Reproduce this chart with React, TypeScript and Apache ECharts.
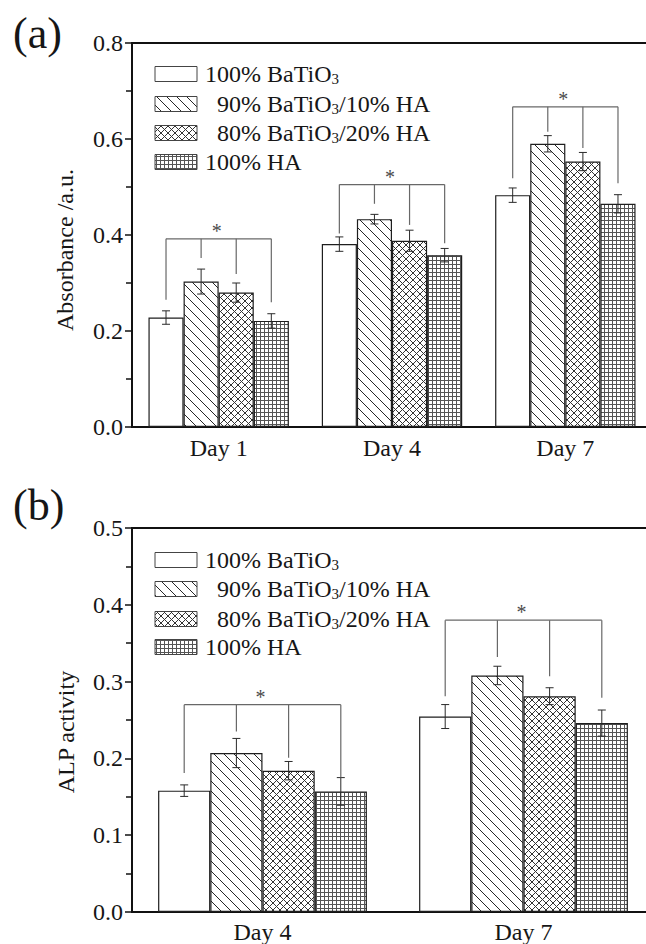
import React, { useEffect, useRef } from 'react';
import * as echarts from 'echarts';

// ---------- data ----------
const seriesNames = ['100% BaTiO3', '90% BaTiO3/10% HA', '80% BaTiO3/20% HA', '100% HA'];

// Panel (a): absorbance
const daysA = ['Day 1', 'Day 4', 'Day 7'];
const absBaTiO3 = [0.228, 0.381, 0.483];
const absBaTiO3Err = [0.014, 0.015, 0.015];
const abs90 = [0.303, 0.433, 0.59];
const abs90Err = [0.026, 0.01, 0.017];
const abs80 = [0.28, 0.388, 0.553];
const abs80Err = [0.02, 0.022, 0.019];
const absHA = [0.221, 0.358, 0.465];
const absHAErr = [0.015, 0.014, 0.019];
// significance brackets: bracket level, then the lower end of each leg
const absBracketLevel = [0.392, 0.505, 0.667];
const absBracketLegs = [
  [0.265, 0.352, 0.319, 0.26],
  [0.403, 0.465, 0.421, 0.383],
  [0.518, 0.615, 0.581, 0.508],
];
const absTicks = { min: 0, max: 0.8, interval: 0.2 };

// Panel (b): ALP activity
const daysB = ['Day 4', 'Day 7'];
const alpBaTiO3 = [0.158, 0.2545];
const alpBaTiO3Err = [0.0075, 0.0156];
const alp90 = [0.207, 0.308];
const alp90Err = [0.019, 0.012];
const alp80 = [0.184, 0.281];
const alp80Err = [0.012, 0.011];
const alpHA = [0.157, 0.246];
const alpHAErr = [0.018, 0.017];
const alpBracketLevel = [0.27, 0.38];
const alpBracketLegs = [
  [0.181, 0.235, 0.201, 0.175],
  [0.281, 0.332, 0.307, 0.279],
];
const alpTicks = { min: 0, max: 0.5, interval: 0.1 };

const FONT = "'Liberation Serif', 'Times New Roman', serif";
const TXT = '#161616';
const STAR = '#4a4a4a';
const FS = 24;

function makePattern(kind: string) {
  const s = kind === 'diag' ? 10 : kind === 'cross' ? 7 : 4;
  const c = document.createElement('canvas');
  c.width = s;
  c.height = s;
  const g = c.getContext('2d')!;
  g.fillStyle = '#ffffff';
  g.fillRect(0, 0, s, s);
  g.strokeStyle = kind === 'cross' ? '#333333' : '#262626';
  g.lineWidth = 1;
  if (kind === 'diag' || kind === 'cross') {
    g.beginPath();
    g.moveTo(0, 0); g.lineTo(s, s);
    g.moveTo(-1, s - 1); g.lineTo(1, s + 1);
    g.moveTo(s - 1, -1); g.lineTo(s + 1, 1);
    g.stroke();
  }
  if (kind === 'cross') {
    g.beginPath();
    g.moveTo(0, s); g.lineTo(s, 0);
    g.moveTo(-1, 1); g.lineTo(1, -1);
    g.moveTo(s - 1, s + 1); g.lineTo(s + 1, s - 1);
    g.stroke();
  }
  if (kind === 'grid') {
    g.strokeStyle = '#555555';
    g.beginPath();
    g.moveTo(0.5, 0); g.lineTo(0.5, s);
    g.moveTo(0, 0.5); g.lineTo(s, 0.5);
    g.stroke();
  }
  return { image: c.toDataURL(), repeat: 'repeat', imageWidth: s, imageHeight: s };
}

export default function App() {
  const ref = useRef<HTMLDivElement>(null);

  useEffect(() => {
    if (!ref.current) return;
    const chart = echarts.init(ref.current, undefined, { renderer: 'svg' });

    const fills = ['#ffffff', makePattern('diag'), makePattern('cross'), makePattern('grid')];

    const gapA = 0.19;
    const gapB = 0.2;

    const panelA = [
      { vals: absBaTiO3, errs: absBaTiO3Err },
      { vals: abs90, errs: abs90Err },
      { vals: abs80, errs: abs80Err },
      { vals: absHA, errs: absHAErr },
    ];
    const panelB = [
      { vals: alpBaTiO3, errs: alpBaTiO3Err },
      { vals: alp90, errs: alp90Err },
      { vals: alp80, errs: alp80Err },
      { vals: alpHA, errs: alpHAErr },
    ];

    const barSeries = (panel: any[], idx: number, gap: number) =>
      panel.map((p, i) => ({
        type: 'bar',
        name: seriesNames[i],
        xAxisIndex: idx,
        yAxisIndex: idx,
        data: p.vals,
        barGap: '0%',
        barCategoryGap: gap * 100 + '%',
        itemStyle: { color: fills[i], borderColor: '#1e1e1e', borderWidth: 1.2 },
        silent: true,
      }));

    const errSeries = (panel: any[], idx: number, gap: number) => {
      const data: number[][] = [];
      panel.forEach((p, s) => p.vals.forEach((v: number, c: number) => data.push([c, s, v, p.errs[c]])));
      return {
        type: 'custom',
        xAxisIndex: idx,
        yAxisIndex: idx,
        z: 5,
        silent: true,
        itemStyle: { color: '#2a2a2a' },
        data,
        encode: { x: 0, y: 2 },
        renderItem: (_params: any, api: any) => {
          const cat = api.value(0);
          const s = api.value(1);
          const v = api.value(2);
          const e = api.value(3);
          const band = api.size([1, 0])[0];
          const bw = (band * (1 - gap)) / 4;
          const c = api.coord([cat, v]);
          const x = c[0] + (s - 1.5) * bw;
          const yt = api.coord([cat, v + e])[1];
          const yb = api.coord([cat, v - e])[1];
          const cap = 4;
          const st = { stroke: '#2a2a2a', lineWidth: 1 };
          return {
            type: 'group',
            children: [
              { type: 'line', shape: { x1: x, y1: yt, x2: x, y2: yb }, style: st },
              { type: 'line', shape: { x1: x - cap, y1: yt, x2: x + cap, y2: yt }, style: st },
              { type: 'line', shape: { x1: x - cap, y1: yb, x2: x + cap, y2: yb }, style: st },
            ],
          };
        },
      };
    };

    const bracketSeries = (levels: number[], legs: number[][], idx: number, gap: number) => ({
      type: 'custom',
      xAxisIndex: idx,
      yAxisIndex: idx,
      z: 6,
      silent: true,
      itemStyle: { color: STAR },
      data: levels.map((l, c) => [c, l, ...legs[c]]),
      encode: { x: 0, y: 1 },
      renderItem: (_params: any, api: any) => {
        const cat = api.value(0);
        const lvl = api.value(1);
        const band = api.size([1, 0])[0];
        const bw = (band * (1 - gap)) / 4;
        const top = api.coord([cat, lvl]);
        const st = { stroke: '#686868', lineWidth: 1.2 };
        const children: any[] = [];
        const xs = [0, 1, 2, 3].map((i) => top[0] + (i - 1.5) * bw);
        children.push({ type: 'line', shape: { x1: xs[0], y1: top[1], x2: xs[3], y2: top[1] }, style: st });
        for (let i = 0; i < 4; i++) {
          const yEnd = api.coord([cat, api.value(2 + i)])[1];
          children.push({ type: 'line', shape: { x1: xs[i], y1: top[1], x2: xs[i], y2: yEnd }, style: st });
        }
        children.push({
          type: 'text',
          x: top[0] - 2,
          y: top[1] - 8,
          style: { text: '*', font: `20px ${FONT}`, fill: STAR, align: 'center', verticalAlign: 'middle' },
        });
        return { type: 'group', children };
      },
    });

    const yAxisCfg = (t: any, idx: number) => ({
      type: 'value',
      gridIndex: idx,
      min: t.min,
      max: t.max,
      interval: t.interval,
      axisLine: { show: true, lineStyle: { color: '#111', width: 2 } },
      axisTick: { show: true, inside: false, length: 7, lineStyle: { color: '#111', width: 1.5 } },
      minorTick: { show: true, splitNumber: 2, length: 6, lineStyle: { color: '#111', width: 1.5 } },
      splitLine: { show: false },
      axisLabel: {
        fontFamily: FONT,
        fontSize: FS,
        color: TXT,
        margin: 9,
        formatter: (v: number) => v.toFixed(1),
      },
    });

    const xAxisCfg = (cats: string[], idx: number, margin: number) => ({
      type: 'category',
      gridIndex: idx,
      data: cats,
      axisLine: { show: true, lineStyle: { color: '#111', width: 2 } },
      axisTick: { show: false },
      axisLabel: { fontFamily: FONT, fontSize: FS, color: TXT, margin },
    });

    const legendGraphics = (rowsY: number[]) => {
      const els: any[] = [];
      const labels = [
        { t: '100% BaTiO{s|3}', x: 205 },
        { t: '90% BaTiO{s|3}/10% HA', x: 217 },
        { t: '80% BaTiO{s|3}/20% HA', x: 217 },
        { t: '100% HA', x: 205 },
      ];
      rowsY.forEach((y, i) => {
        els.push({
          type: 'rect',
          shape: { x: 155, y: y - 7.5, width: 42, height: 15 },
          style: { fill: fills[i], stroke: '#444', lineWidth: 1 },
          silent: true,
        });
        els.push({
          type: 'text',
          x: labels[i].x,
          y,
          style: {
            text: labels[i].t,
            font: `${FS}px ${FONT}`,
            fill: TXT,
            verticalAlign: 'middle',
            rich: {
              s: { fontSize: 15, fontFamily: FONT, fill: TXT, verticalAlign: 'bottom', lineHeight: 14, padding: [8, 0, 0, 0] },
            },
          },
          silent: true,
        });
      });
      return els;
    };

    const option: any = {
      animation: false,
      backgroundColor: '#ffffff',
      grid: [
        { left: 132, top: 43, width: 520, height: 384, show: true, borderColor: '#111', borderWidth: 2, backgroundColor: 'transparent' },
        { left: 132, top: 528, width: 522, height: 385, show: true, borderColor: '#111', borderWidth: 2, backgroundColor: 'transparent' },
      ],
      xAxis: [xAxisCfg(daysA, 0, 9), xAxisCfg(daysB, 1, 8)],
      yAxis: [yAxisCfg(absTicks, 0), yAxisCfg(alpTicks, 1)],
      series: [
        ...barSeries(panelA, 0, gapA),
        errSeries(panelA, 0, gapA),
        bracketSeries(absBracketLevel, absBracketLegs, 0, gapA),
        ...barSeries(panelB, 1, gapB),
        errSeries(panelB, 1, gapB),
        bracketSeries(alpBracketLevel, alpBracketLegs, 1, gapB),
      ],
      graphic: [
        { type: 'text', x: 13, y: 33, style: { text: '(a)', font: `44px ${FONT}`, fill: TXT, verticalAlign: 'middle' } },
        { type: 'text', x: 13, y: 505, style: { text: '(b)', font: `44px ${FONT}`, fill: TXT, verticalAlign: 'middle' } },
        {
          type: 'text', x: 65, y: 250, rotation: Math.PI / 2,
          style: { text: 'Absorbance /a.u.', font: `${FS}px ${FONT}`, fill: TXT, align: 'center', verticalAlign: 'middle' },
        },
        {
          type: 'text', x: 66, y: 732, rotation: Math.PI / 2,
          style: { text: 'ALP activity', font: `${FS}px ${FONT}`, fill: TXT, align: 'center', verticalAlign: 'middle' },
        },
        ...legendGraphics([74, 104, 133, 162]),
        ...legendGraphics([560, 589, 619, 647]),
      ],
    };

    chart.setOption(option);
    return () => chart.dispose();
  }, []);

  return (
    <div style={{ position: 'absolute', left: 0, top: 0, width: 646, height: 944, overflow: 'hidden', background: '#fff' }}>
      <div ref={ref} style={{ width: 664, height: 944 }} />
    </div>
  );
}
